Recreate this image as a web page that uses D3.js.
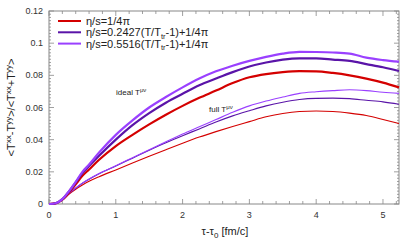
<!DOCTYPE html>
<html>
<head>
<meta charset="utf-8">
<script src="https://cdn.jsdelivr.net/npm/d3@7"></script>
<style>
  body { margin: 0; background: #fff; }
  text { font-family: "Liberation Sans", Arial, sans-serif; }
</style>
</head>
<body>
<script>
(function(){

    //time axis (tau - tau0) shared by all curves
    var tau = [0, 0.1, 0.2, 0.3, 0.4, 0.5, 0.6, 0.75, 1, 1.25, 1.5, 1.75, 2, 2.25, 2.5, 2.75, 3, 3.25, 3.5, 3.75, 4, 4.25, 4.5, 4.75, 5, 5.24];

    //ideal T^{mu nu}
    var idealConst = [0, 0.0004, 0.0027, 0.007, 0.0122, 0.0175, 0.0215, 0.0275, 0.036, 0.043, 0.0495, 0.0555, 0.061, 0.066, 0.0705, 0.0752, 0.0788, 0.0808, 0.082, 0.0826, 0.0825, 0.0815, 0.080, 0.078, 0.0755, 0.0725];
    var idealLow   = [0, 0.0005, 0.003, 0.0078, 0.0134, 0.0192, 0.0236, 0.030, 0.040, 0.049, 0.0565, 0.063, 0.0685, 0.0738, 0.078, 0.082, 0.0855, 0.088, 0.0898, 0.0906, 0.0905, 0.0898, 0.089, 0.087, 0.085, 0.0827];
    var idealHigh  = [0, 0.0005, 0.003, 0.008, 0.0138, 0.020, 0.0245, 0.032, 0.043, 0.052, 0.060, 0.0665, 0.0725, 0.078, 0.0825, 0.086, 0.089, 0.0915, 0.0935, 0.0946, 0.0945, 0.0942, 0.0935, 0.091, 0.0895, 0.0885];

    //full T^{mu nu}
    var fullConst = [0, 0.0004, 0.0024, 0.0062, 0.0092, 0.0118, 0.0141, 0.0170, 0.0212, 0.0255, 0.0297, 0.0338, 0.0378, 0.0416, 0.045, 0.0482, 0.0512, 0.0542, 0.0563, 0.0575, 0.0578, 0.0575, 0.0565, 0.055, 0.0525, 0.050];
    var fullLow   = [0, 0.0004, 0.0025, 0.0065, 0.0099, 0.0129, 0.0154, 0.0188, 0.0236, 0.0285, 0.0334, 0.0381, 0.0425, 0.0467, 0.051, 0.0548, 0.058, 0.061, 0.0633, 0.065, 0.0657, 0.0658, 0.0655, 0.0645, 0.0635, 0.062];
    var fullHigh  = [0, 0.0004, 0.0025, 0.0065, 0.0100, 0.013, 0.0156, 0.0190, 0.0238, 0.0288, 0.0338, 0.0387, 0.0435, 0.048, 0.0525, 0.057, 0.061, 0.064, 0.0665, 0.0688, 0.0698, 0.0705, 0.071, 0.0705, 0.0695, 0.0688];

    var legendLabels = ["η/s=1/4π", "η/s=0.2427(T/T", "η/s=0.5516(T/T"];
    var xTicks = [0, 1, 2, 3, 4, 5];
    var yTicks = [0, 0.02, 0.04, 0.06, 0.08, 0.1, 0.12];

    var colors = ["#d40000", "#5a14a8", "#9a40ff"];

    var width = 412, height = 247;
    var margin = {left: 49, right: 13, top: 11, bottom: 43};

    var svg = d3.select("body")
        .append("svg")
        .attr("width", width)
        .attr("height", height);

    var x = d3.scaleLinear()
        .domain([0, 5.24])
        .range([margin.left, width - margin.right]);
    var y = d3.scaleLinear()
        .domain([0, 0.12])
        .range([height - margin.bottom, margin.top]);

    var x0 = x.range()[0], x1 = x.range()[1], y0 = y.range()[0], y1 = y.range()[1];

    //frame
    svg.append("rect")
        .attr("x", x0).attr("y", y1)
        .attr("width", x1 - x0).attr("height", y0 - y1)
        .attr("fill", "none")
        .attr("stroke", "#888")
        .attr("stroke-width", 1);

    //minor and major ticks on all four sides
    var ticks = svg.append("g").attr("stroke", "#888").attr("stroke-width", 0.8);
    d3.range(0, 5.24, 0.2).forEach(function(v){
        var major = Math.abs(v - Math.round(v)) < 1e-6;
        var len = major ? 5 : 3;
        ticks.append("line").attr("x1", x(v)).attr("x2", x(v)).attr("y1", y0).attr("y2", y0 - len);
        ticks.append("line").attr("x1", x(v)).attr("x2", x(v)).attr("y1", y1).attr("y2", y1 + len);
    });
    d3.range(0, 0.1201, 0.002).forEach(function(v){
        var major = Math.abs(v / 0.02 - Math.round(v / 0.02)) < 1e-6;
        var len = major ? 5 : 2;
        ticks.append("line").attr("y1", y(v)).attr("y2", y(v)).attr("x1", x0).attr("x2", x0 + len);
        ticks.append("line").attr("y1", y(v)).attr("y2", y(v)).attr("x1", x1).attr("x2", x1 - len);
    });

    //tick labels
    svg.selectAll(".xlab")
        .data(xTicks)
        .enter()
        .append("text")
        .attr("x", function(d){ return x(d); })
        .attr("y", y0 + 14)
        .attr("text-anchor", "middle")
        .attr("font-size", 9)
        .attr("fill", "#333")
        .text(function(d){ return d; });

    svg.selectAll(".ylab")
        .data(yTicks)
        .enter()
        .append("text")
        .attr("x", x0 - 6)
        .attr("y", function(d){ return y(d) + 3; })
        .attr("text-anchor", "end")
        .attr("font-size", 9)
        .attr("fill", "#333")
        .text(function(d){ return d === 0 ? "0" : String(+d.toFixed(2)); });

    //axis titles
    var xt = svg.append("text")
        .attr("x", (x0 + x1) / 2 + 1)
        .attr("y", 235)
        .attr("text-anchor", "middle")
        .attr("font-size", 11)
        .attr("fill", "#222");
    xt.append("tspan").text("τ-τ");
    xt.append("tspan").attr("font-size", 8).attr("dy", 3).text("0");
    xt.append("tspan").attr("dy", -3).text(" [fm/c]");

    var yt = svg.append("text")
        .attr("transform", "translate(15," + ((y0 + y1) / 2) + ") rotate(-90)")
        .attr("text-anchor", "middle")
        .attr("font-size", 11)
        .attr("fill", "#222");
    yt.append("tspan").text("<T");
    yt.append("tspan").attr("font-size", 8).attr("dy", -4).text("xx");
    yt.append("tspan").attr("dy", 4).text("-T");
    yt.append("tspan").attr("font-size", 8).attr("dy", -4).text("yy");
    yt.append("tspan").attr("dy", 4).text(">/<T");
    yt.append("tspan").attr("font-size", 8).attr("dy", -4).text("xx");
    yt.append("tspan").attr("dy", 4).text("+T");
    yt.append("tspan").attr("font-size", 8).attr("dy", -4).text("yy");
    yt.append("tspan").attr("dy", 4).text(">");

    //curves
    var line = d3.line()
        .x(function(d){ return x(d[0]); })
        .y(function(d){ return y(d[1]); })
        .curve(d3.curveMonotoneX);

    var curves = [
        {vals: fullConst, c: 0, w: 1.1},
        {vals: fullLow, c: 1, w: 1.1},
        {vals: fullHigh, c: 2, w: 1.1},
        {vals: idealConst, c: 0, w: 2.2},
        {vals: idealLow, c: 1, w: 2.2},
        {vals: idealHigh, c: 2, w: 2.2}
    ];

    svg.selectAll(".curve")
        .data(curves)
        .enter()
        .append("path")
        .attr("class", "curve")
        .attr("fill", "none")
        .attr("stroke", function(d){ return colors[d.c]; })
        .attr("stroke-width", function(d){ return d.w; })
        .attr("d", function(d){
            return line(tau.map(function(t, i){ return [t, d.vals[i]]; }));
        });

    //annotations
    function tmunu(label, px, py){
        var t = svg.append("text")
            .attr("x", px).attr("y", py)
            .attr("font-size", 8)
            .attr("fill", "#222");
        t.append("tspan").text(label + " T");
        t.append("tspan").attr("font-size", 6).attr("dy", -3).text("μν");
    }
    tmunu("ideal", 116, 95);
    tmunu("full", 209, 112);

    //legend
    var leg = svg.append("g");
    legendLabels.forEach(function(lab, i){
        var ly = 21 + i * 11.3;
        leg.append("line")
            .attr("x1", 58).attr("x2", 81)
            .attr("y1", ly).attr("y2", ly)
            .attr("stroke", colors[i])
            .attr("stroke-width", 2);
        var t = leg.append("text")
            .attr("x", 86).attr("y", ly + 4)
            .attr("font-size", 11)
            .attr("fill", "#222");
        t.append("tspan").text(lab);
        if (i > 0){
            t.append("tspan").attr("font-size", 7.5).attr("dy", 2.5).text("tr");
            t.append("tspan").attr("dy", -2.5).text("-1)+1/4π");
        }
    });

})();
</script>
</body>
</html>
